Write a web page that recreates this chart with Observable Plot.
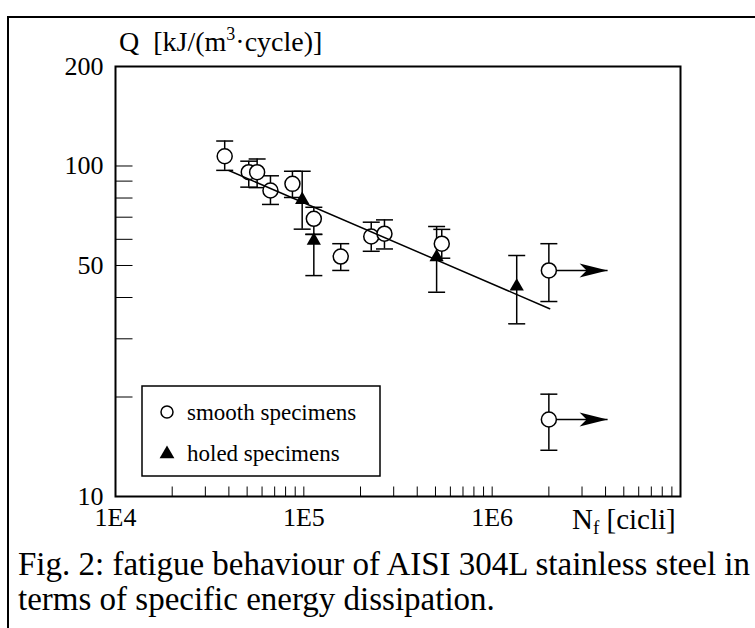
<!DOCTYPE html>
<html><head><meta charset="utf-8">
<script src="https://cdn.jsdelivr.net/npm/d3@7"></script>
<script src="https://cdn.jsdelivr.net/npm/@observablehq/plot@0.6"></script>
<style>
body{margin:0;background:#fff;}
#wrap{position:relative;width:755px;height:628px;overflow:hidden;font-family:"Liberation Serif","Times New Roman",serif;}
#chart{position:absolute;left:0;top:0;}
#over{position:absolute;left:0;top:0;pointer-events:none;}
</style></head><body>
<div id="wrap"><div id="chart"></div><svg id="over" width="755" height="628"></svg></div>
<script>
// ---- data ----
const smoothN  = [3.8e4, 5.1e4, 5.65e4, 6.65e4, 8.7e4, 1.13e5, 1.57e5, 2.28e5, 2.68e5, 5.4e5, 2.0e6, 2.0e6];
const smoothQ  = [107,   95.8,  95.8,   84.3,   88.3,  69.2,   53.2,   61.2,   62.4,   58.2,  48.3,  17.1];
const smoothLo = [97,    86.3,  86.0,   76.5,   80.3,  62.1,   48.3,   55.2,   56.1,   52.6,  38.9,  13.8];
const smoothHi = [119,   103.4, 105,    93.4,   96.4,  75.0,   58.2,   67.6,   68.7,   64.3,  58.2,  20.4];
const holedN   = [9.8e4, 1.13e5, 5.07e5, 1.35e6];
const holedQ   = [79.0,  59.5,   53.0,   43.2];
const holedLo  = [64.4,  46.6,   41.5,   33.3];
const holedHi  = [96.4,  62.1,   65.6,   53.6];
const fitN     = [4.0e4, 2.02e6];
const fitQ     = [96.9, 37.0];
const runoutN  = [2.0e6, 2.0e6];
const runoutQ  = [48.3, 17.1];
const arrowTipN = 4.1e6;
const xLabelVals = [1e4, 1e5, 1e6];
const xLabels    = ["1E4", "1E5", "1E6"];
const yLabelVals = [10, 50, 100, 200];
const yLabels    = ["10", "50", "100", "200"];
const xMinorTicks = [2e4,3e4,4e4,5e4,6e4,7e4,8e4,9e4,1e5,2e5,3e5,4e5,5e5,6e5,7e5,8e5,9e5,1e6,2e6,3e6,4e6,5e6,6e6,7e6,8e6,9e6];
const yMinorTicks = [20,30,40,50,60,70,80,90,100];
const legendLabels = ["smooth specimens", "holed specimens"];
const captionLines = ["Fig. 2: fatigue behaviour of AISI 304L stainless steel in", "terms of specific energy dissipation."];

// ---- tables ----
const smooth = smoothN.map((N,i)=>({N, Q:smoothQ[i], lo:smoothLo[i], hi:smoothHi[i]}));
const holed  = holedN.map((N,i)=>({N, Q:holedQ[i], lo:holedLo[i], hi:holedHi[i]}));
const all = smooth.concat(holed);
const fit = fitN.map((N,i)=>({N, Q:fitQ[i]}));
const runouts = runoutN.map((N,i)=>({N, Q:runoutQ[i]}));
const ff = '"Liberation Serif","Times New Roman",serif';

// ---- custom symbols ----
const capSym  = {draw(c){c.moveTo(-8.5,0);c.lineTo(8.5,0);}};
const tickUp  = {draw(c){c.moveTo(0,0);c.lineTo(0,-10);}};
const tickIn  = {draw(c){c.moveTo(0,0);c.lineTo(17,0);}};
const headSym = {draw(c){c.moveTo(0,0);c.lineTo(-28,-7);c.lineTo(-21,0);c.lineTo(-28,7);c.closePath();}};

const plot = Plot.plot({
  width:755, height:545,
  marginLeft:115, marginRight:75, marginTop:66, marginBottom:49,
  style:{fontFamily:ff, background:"transparent", color:"black"},
  x:{type:"log", domain:[1e4,1e7], axis:null},
  y:{type:"log", domain:[10,200], axis:null},
  marks:[
    Plot.dot(xMinorTicks, {x:d=>d, frameAnchor:"bottom", symbol:tickUp, stroke:"black", fill:"none", strokeWidth:1}),
    Plot.dot(yMinorTicks, {y:d=>d, frameAnchor:"left", symbol:tickIn, stroke:"black", fill:"none", strokeWidth:1}),
    Plot.text(xLabelVals, {x:d=>d, frameAnchor:"bottom", text:(d,i)=>xLabels[i], lineAnchor:"top", dy:11, fontSize:26, fontFamily:ff, fill:"black"}),
    Plot.text(yLabelVals, {y:d=>d, frameAnchor:"left", text:(d,i)=>yLabels[i], textAnchor:"end", dx:-12, fontSize:26, fontFamily:ff, fill:"black"}),
    Plot.frame({stroke:"black", strokeWidth:2}),
    Plot.ruleX(all, {x:"N", y1:"lo", y2:"hi", stroke:"black", strokeWidth:1.5}),
    Plot.dot(all, {x:"N", y:"lo", symbol:capSym, stroke:"black", fill:"none", strokeWidth:1.5}),
    Plot.dot(all, {x:"N", y:"hi", symbol:capSym, stroke:"black", fill:"none", strokeWidth:1.5}),
    Plot.link(runouts, {x1:"N", y1:"Q", x2:()=>arrowTipN, y2:"Q", stroke:"black", strokeWidth:1.5}),
    Plot.dot(runouts, {x:()=>arrowTipN, y:"Q", symbol:headSym, fill:"black", stroke:"none"}),
    Plot.dot(smooth, {x:"N", y:"Q", r:7.5, symbol:"circle", fill:"white", stroke:"black", strokeWidth:1.5}),
    Plot.dot(holed, {x:"N", y:"Q", r:5.3, symbol:"triangle", fill:"black", stroke:"none"}),
    Plot.line(fit, {x:"N", y:"Q", stroke:"black", strokeWidth:1.5})
  ]
});
document.getElementById("chart").appendChild(plot);

// ---- overlay: border, axis titles, legend, caption ----
const svg = d3.select("#over");
svg.append("path").attr("d","M8,628V17H755").attr("fill","none").attr("stroke","black").attr("stroke-width",2);

const yt = svg.append("text").attr("x",119).attr("y",51).attr("font-family",ff).attr("font-size",28).attr("fill","black").style("white-space","pre");
yt.append("tspan").text("Q  [kJ/(m");
yt.append("tspan").attr("font-size",18).attr("dy",-11).text("3");
yt.append("tspan").attr("dy",11).text("\u00B7cycle)]");

const xt = svg.append("text").attr("x",572).attr("y",529).attr("font-family",ff).attr("font-size",29).attr("fill","black").style("white-space","pre");
xt.append("tspan").text("N");
xt.append("tspan").attr("font-size",19).attr("dy",5).text("f");
xt.append("tspan").attr("dy",-5).text(" [cicli]");

const lg = svg.append("g");
lg.append("rect").attr("x",142).attr("y",386).attr("width",238).attr("height",90).attr("fill","white").attr("stroke","black").attr("stroke-width",1.5);
lg.append("circle").attr("cx",167).attr("cy",412).attr("r",6).attr("fill","none").attr("stroke","black").attr("stroke-width",1.5);
lg.append("path").attr("d",d3.symbol(d3.symbolTriangle, 95)()).attr("transform","translate(167,454)").attr("fill","black");
lg.append("text").attr("x",187).attr("y",420).attr("font-family",ff).attr("font-size",23).text(legendLabels[0]);
lg.append("text").attr("x",187).attr("y",461).attr("font-family",ff).attr("font-size",23).text(legendLabels[1]);

captionLines.forEach((t,i)=>{
  svg.append("text").attr("x",18).attr("y",575+35*i).attr("font-family",ff).attr("font-size",33).attr("fill","black").text(t);
});
</script>
</body></html>
